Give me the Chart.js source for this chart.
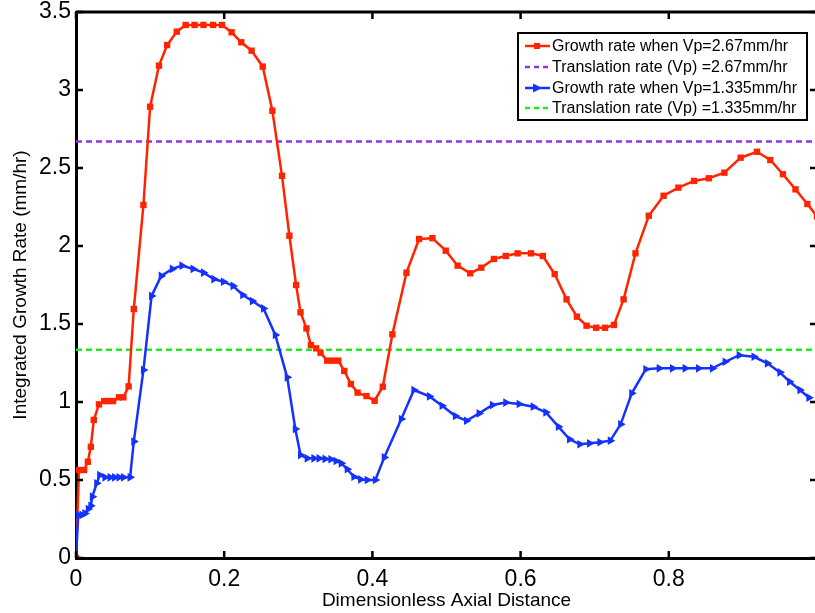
<!DOCTYPE html>
<html>
<head>
<meta charset="utf-8">
<script src="https://cdn.jsdelivr.net/npm/chart.js@4.4.1/dist/chart.umd.min.js"></script>
<style>
    html, body { margin: 0; padding: 0; background: #fff; overflow: hidden; }
    #wrap { width: 822px; height: 613px; }
</style>
</head>
<body>
<div id="wrap"><canvas id="growthChart" width="822" height="613"></canvas></div>
<script>
// Growth rate along the axis for the faster translation speed
const redX = [0, 0.004, 0.011, 0.016, 0.020, 0.024, 0.031, 0.038, 0.044, 0.050, 0.058, 0.064, 0.071, 0.078, 0.091,
    0.100, 0.112, 0.123, 0.136, 0.148, 0.160, 0.172, 0.185, 0.197, 0.210, 0.223, 0.237, 0.252, 0.265, 0.278,
    0.288, 0.297, 0.303, 0.311, 0.317, 0.324, 0.330, 0.339, 0.347, 0.354, 0.362, 0.371, 0.380, 0.392, 0.403,
    0.414, 0.427, 0.446, 0.463, 0.481, 0.499, 0.515, 0.532, 0.547, 0.564, 0.580, 0.596, 0.614, 0.630, 0.646,
    0.662, 0.676, 0.689, 0.702, 0.714, 0.726, 0.739, 0.755, 0.773, 0.793, 0.813, 0.834, 0.854, 0.875, 0.897,
    0.919, 0.937, 0.954, 0.971, 0.987, 1.0];
const redY = [0, 0.564, 0.564, 0.617, 0.713, 0.885, 0.985, 1.006, 1.006, 1.006, 1.03, 1.03, 1.10, 1.596, 2.263,
    2.893, 3.156, 3.288, 3.374, 3.417, 3.417, 3.417, 3.417, 3.417, 3.37, 3.306, 3.252, 3.15, 2.867, 2.45,
    2.066, 1.75, 1.575, 1.472, 1.365, 1.344, 1.316, 1.265, 1.265, 1.265, 1.199, 1.115, 1.06, 1.038, 1.008,
    1.098, 1.434, 1.829, 2.045, 2.05, 1.97, 1.874, 1.825, 1.861, 1.917, 1.936, 1.953, 1.953, 1.936, 1.82,
    1.658, 1.547, 1.489, 1.476, 1.476, 1.494, 1.658, 1.953, 2.194, 2.322, 2.374, 2.417, 2.434, 2.47, 2.566,
    2.604, 2.551, 2.46, 2.363, 2.269, 2.19];

// Growth rate for the slower translation speed
const blueX = [0, 0.003, 0.008, 0.012, 0.0165, 0.020, 0.022, 0.028, 0.032, 0.039, 0.046, 0.052, 0.058, 0.064, 0.073,
    0.078, 0.091, 0.102, 0.115, 0.130, 0.143, 0.158, 0.172, 0.186, 0.199, 0.212, 0.225, 0.238, 0.253, 0.269,
    0.285, 0.296, 0.303, 0.312, 0.321, 0.328, 0.336, 0.344, 0.351, 0.358, 0.366, 0.375, 0.384, 0.393, 0.404,
    0.416, 0.439, 0.456, 0.477, 0.494, 0.512, 0.527, 0.544, 0.562, 0.580, 0.598, 0.617, 0.634, 0.651, 0.666,
    0.680, 0.693, 0.707, 0.721, 0.735, 0.750, 0.769, 0.787, 0.805, 0.822, 0.840, 0.859, 0.876, 0.895, 0.915,
    0.933, 0.950, 0.963, 0.977, 0.989];
const blueY = [0, 0.276, 0.276, 0.286, 0.314, 0.335, 0.393, 0.479, 0.532, 0.517, 0.517, 0.517, 0.517, 0.517, 0.517,
    0.746, 1.205, 1.68, 1.808, 1.853, 1.874, 1.853, 1.829, 1.788, 1.771, 1.744, 1.686, 1.647, 1.60, 1.43,
    1.158, 0.827, 0.66, 0.639, 0.639, 0.639, 0.635, 0.633, 0.622, 0.607, 0.569, 0.521, 0.504, 0.50, 0.50,
    0.645, 0.891, 1.077, 1.036, 0.976, 0.91, 0.88, 0.927, 0.981, 0.996, 0.987, 0.97, 0.934, 0.842, 0.761,
    0.729, 0.735, 0.742, 0.752, 0.857, 1.056, 1.21, 1.216, 1.216, 1.216, 1.216, 1.216, 1.258, 1.30, 1.29,
    1.248, 1.19, 1.13, 1.077, 1.028];

// Translation rates (constant)
const vpFast = 2.67;
const vpSlow = 1.335;
const xRange = [0, 1];

const xTicks = [0, 0.2, 0.4, 0.6, 0.8, 1];
const yTicks = [0, 0.5, 1, 1.5, 2, 2.5, 3, 3.5];

const legendLabels = [
    "Growth rate when Vp=2.67mm/hr",
    "Translation rate (Vp) =2.67mm/hr",
    "Growth rate when Vp=1.335mm/hr",
    "Translation rate (Vp) =1.335mm/hr"
];

const RED = "#ff2400";
const BLUE = "#1432ff";
const PURPLE = "#8c37e6";
const GREEN = "#1eeb1e";
const FONT = "'Liberation Sans', Arial, Helvetica, sans-serif";

const toPoints = (xs, ys) => xs.map((x, i) => ({ x, y: ys[i] }));

// frame on top/right and MATLAB-style inward ticks
const framePlugin = {
    id: "frame",
    afterDatasetsDraw(chart) {
        const { ctx, chartArea: a, scales } = chart;
        ctx.save();
        ctx.strokeStyle = "#000";
        ctx.lineWidth = 3;
        ctx.beginPath();
        ctx.moveTo(a.left, a.top);
        ctx.lineTo(a.right, a.top);
        ctx.lineTo(a.right, a.bottom);
        ctx.stroke();

        ctx.lineWidth = 2.5;
        const len = 7;
        xTicks.forEach(v => {
            const px = scales.x.getPixelForValue(v);
            ctx.beginPath();
            ctx.moveTo(px, a.bottom);
            ctx.lineTo(px, a.bottom - len);
            ctx.moveTo(px, a.top);
            ctx.lineTo(px, a.top + len);
            ctx.stroke();
        });
        yTicks.forEach(v => {
            const py = scales.y.getPixelForValue(v);
            ctx.beginPath();
            ctx.moveTo(a.left, py);
            ctx.lineTo(a.left + len, py);
            ctx.moveTo(a.right, py);
            ctx.lineTo(a.right - len, py);
            ctx.stroke();
        });
        ctx.restore();
    },
    afterDraw(chart) {
        // boxed legend in the upper right corner
        const ctx = chart.ctx;
        const box = { left: 518, top: 33, right: 807, bottom: 120 };
        const rows = [46, 67, 88, 108];
        const styles = [
            { color: RED, dash: [], marker: "square" },
            { color: PURPLE, dash: [5, 4], marker: null },
            { color: BLUE, dash: [], marker: "triangle" },
            { color: GREEN, dash: [5, 4], marker: null }
        ];
        ctx.save();
        ctx.fillStyle = "#fff";
        ctx.fillRect(box.left, box.top, box.right - box.left, box.bottom - box.top);
        ctx.strokeStyle = "#000";
        ctx.lineWidth = 2;
        ctx.strokeRect(box.left, box.top, box.right - box.left, box.bottom - box.top);

        styles.forEach((s, i) => {
            const y = rows[i];
            ctx.strokeStyle = s.color;
            ctx.lineWidth = 2.5;
            ctx.setLineDash(s.dash);
            ctx.beginPath();
            ctx.moveTo(525, y);
            ctx.lineTo(550, y);
            ctx.stroke();
            ctx.setLineDash([]);
            ctx.fillStyle = s.color;
            if (s.marker === "square") {
                ctx.fillRect(534, y - 3, 6, 6);
            } else if (s.marker === "triangle") {
                ctx.beginPath();
                ctx.moveTo(542, y);
                ctx.lineTo(533, y - 4.5);
                ctx.lineTo(533, y + 4.5);
                ctx.closePath();
                ctx.fill();
            }
            ctx.fillStyle = "#000";
            ctx.font = "16px " + FONT;
            ctx.textBaseline = "middle";
            ctx.fillText(legendLabels[i], 552, y + 1);
        });
        ctx.restore();
    }
};

new Chart(document.getElementById("growthChart"), {
    type: "scatter",
    data: {
        datasets: [
            {
                label: legendLabels[0],
                data: toPoints(redX, redY),
                showLine: true,
                borderColor: RED,
                backgroundColor: RED,
                borderWidth: 2.5,
                pointStyle: "rect",
                pointRadius: 4.5,
                pointBorderWidth: 0,
                order: 2
            },
            {
                label: legendLabels[1],
                data: toPoints(xRange, [vpFast, vpFast]),
                showLine: true,
                borderColor: PURPLE,
                borderWidth: 2.5,
                borderDash: [6, 4],
                pointRadius: 0,
                order: 3
            },
            {
                label: legendLabels[2],
                data: toPoints(blueX, blueY),
                showLine: true,
                borderColor: BLUE,
                backgroundColor: BLUE,
                borderWidth: 2.5,
                pointStyle: "triangle",
                rotation: 90,
                pointRadius: 5,
                pointBorderWidth: 0,
                order: 1
            },
            {
                label: legendLabels[3],
                data: toPoints(xRange, [vpSlow, vpSlow]),
                showLine: true,
                borderColor: GREEN,
                borderWidth: 2.5,
                borderDash: [6, 4],
                pointRadius: 0,
                order: 4
            }
        ]
    },
    options: {
        responsive: false,
        animation: false,
        layout: { padding: { left: 0, top: 12, right: 2, bottom: 0 } },
        plugins: {
            legend: { display: false },
            tooltip: { enabled: false }
        },
        scales: {
            x: {
                type: "linear",
                min: 0,
                max: 1,
                afterBuildTicks: s => { s.ticks = xTicks.map(v => ({ value: v })); },
                afterFit: s => { s.height = 55; },
                grid: { display: false },
                border: { display: true, color: "#000", width: 3 },
                ticks: {
                    color: "#000",
                    padding: 0,
                    maxRotation: 0,
                    font: { family: FONT, size: 23 },
                    callback: v => (v > 0.9 ? "" : String(v))
                },
                title: {
                    display: true,
                    text: "Dimensionless Axial Distance",
                    color: "#000",
                    font: { family: FONT, size: 19 },
                    padding: { top: 0, bottom: 1 }
                }
            },
            y: {
                type: "linear",
                min: 0,
                max: 3.5,
                afterBuildTicks: s => { s.ticks = yTicks.map(v => ({ value: v })); },
                afterFit: s => { s.width = 76; },
                grid: { display: false },
                border: { display: true, color: "#000", width: 3 },
                ticks: {
                    color: "#000",
                    padding: -3,
                    font: { family: FONT, size: 23 },
                    callback: v => String(v)
                },
                title: {
                    display: true,
                    text: "Integrated Growth Rate (mm/hr)",
                    color: "#000",
                    font: { family: FONT, size: 19 },
                    padding: { top: 9, bottom: 0 }
                }
            }
        }
    },
    plugins: [framePlugin]
});
</script>
</body>
</html>
